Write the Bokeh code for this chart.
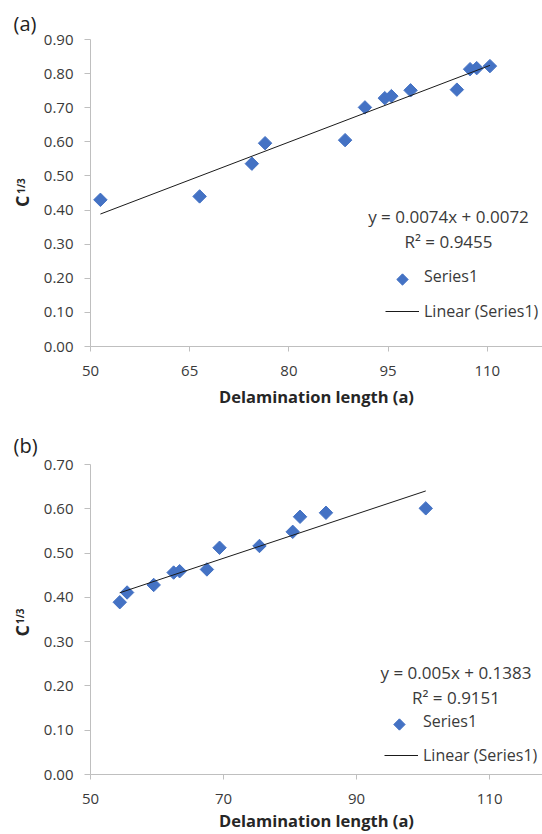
import numpy as np
from bokeh.plotting import figure
from bokeh.layouts import column, row
from bokeh.models import (Range1d, FixedTicker, NumeralTickFormatter, Label,
                          Legend, LegendItem)
from bokeh.core.properties import value
from bokeh.embed import file_html
from bokeh.resources import INLINE

FONT = "Open Sans"
BLUE = "#4472C4"
AXIS_GRAY = "#bfbfbf"
TEXT = "#3a3a3a"
TITLE = "#262626"

# Panel (a): delamination length vs cube root of compliance
a_len = [51.5, 66.5, 74.4, 76.4, 88.5, 91.5, 94.5, 95.5, 98.4, 105.4, 107.4, 108.4, 110.4]
a_c = [0.430, 0.440, 0.536, 0.596, 0.605, 0.701, 0.728, 0.734, 0.751, 0.753, 0.813, 0.816, 0.822]
a_slope, a_icpt, a_r2 = 0.0074, 0.0072, 0.9455
a_xticks = [50, 65, 80, 95, 110]
a_yticks = [0.0, 0.1, 0.2, 0.3, 0.4, 0.5, 0.6, 0.7, 0.8, 0.9]

# Panel (b)
b_len = [54.4, 55.5, 59.5, 62.5, 63.4, 67.5, 69.4, 75.4, 80.4, 81.5, 85.4, 100.4]
b_c = [0.389, 0.411, 0.428, 0.456, 0.459, 0.463, 0.512, 0.516, 0.548, 0.582, 0.591, 0.601]
b_slope, b_icpt, b_r2 = 0.005, 0.1383, 0.9151
b_xticks = [50, 70, 90, 110]
b_yticks = [0.0, 0.1, 0.2, 0.3, 0.4, 0.5, 0.6, 0.7]

STRIP_W = 40
MAIN_W = 542 - STRIP_W


def fmt_coef(v):
    return ("%.4f" % v).rstrip("0")


def side_strip(tag, height, b_top, b_bottom, tag_gap, c_xy, sup_xy):
    """Narrow strip left of a panel: panel tag on top, y title C^(1/3) beside the axis.
    Its y range runs in pixels from the top of the strip."""
    s = figure(width=STRIP_W, height=height, output_backend="svg", toolbar_location=None,
               x_range=Range1d(0, STRIP_W), y_range=Range1d(height - b_bottom, b_top),
               min_border_left=0, min_border_right=0,
               min_border_top=b_top, min_border_bottom=b_bottom)
    s.axis.visible = False
    s.grid.visible = False
    s.outline_line_color = None
    s.title.text = tag
    s.title.align = "left"
    s.title.offset = 13
    s.title.standoff = tag_gap
    s.title.text_font = FONT
    s.title.text_font_style = "normal"
    s.title.text_font_size = "20px"
    s.title.text_color = "#222222"
    s.text(x=[c_xy[0]], y=[c_xy[1]], text=["C"], angle=np.pi / 2, text_font=value(FONT),
           text_font_style="bold", text_font_size="18px", text_color=TITLE,
           text_align="center", text_baseline="middle")
    s.text(x=[sup_xy[0]], y=[sup_xy[1]], text=["1/3"], angle=np.pi / 2,
           text_font=value(FONT), text_font_style="bold", text_font_size="10px",
           text_color=TITLE, text_align="center", text_baseline="middle")
    return s


def panel(xs, ys, slope, icpt, r2, xticks, yticks, x_end, height,
          b_top, b_bottom, b_left, title_gap, eq_xy, leg_xy, leg_spacing):
    p = figure(width=MAIN_W, height=height, output_backend="svg", toolbar_location=None,
               x_range=Range1d(50, x_end), y_range=Range1d(0, yticks[-1]),
               min_border_top=b_top, min_border_bottom=b_bottom,
               min_border_left=b_left, min_border_right=0)
    p.outline_line_color = None
    p.grid.visible = False

    for ax in (p.xaxis[0], p.yaxis[0]):
        ax.axis_line_color = AXIS_GRAY
        ax.major_tick_line_color = AXIS_GRAY
        ax.minor_tick_line_color = None
        ax.major_tick_in = 0
        ax.major_label_text_font = FONT
        ax.major_label_text_font_size = "15px"
        ax.major_label_text_color = TEXT
    p.xaxis.ticker = FixedTicker(ticks=xticks)
    p.yaxis.ticker = FixedTicker(ticks=yticks)
    p.yaxis.formatter = NumeralTickFormatter(format="0.00")
    p.xaxis.major_tick_out = 5
    p.yaxis.major_tick_out = 6
    p.xaxis.major_label_standoff = 14
    p.yaxis.major_label_standoff = 11

    p.xaxis.axis_label = "Delamination length (a)"
    p.xaxis.axis_label_text_font = FONT
    p.xaxis.axis_label_text_font_style = "bold"
    p.xaxis.axis_label_text_font_size = "16.5px"
    p.xaxis.axis_label_text_color = TITLE
    p.xaxis.axis_label_standoff = title_gap

    sc = p.scatter(xs, ys, marker="square", size=9.5, angle=np.pi / 4,
                   fill_color=BLUE, line_color=BLUE)
    tx = np.array([min(xs), max(xs)])
    ln = p.line(tx, slope * tx + icpt, line_color="#1a1a1a", line_width=1)

    # trendline equation and R^2
    ex, ey = eq_xy
    p.add_layout(Label(x=ex, y=ey, x_units="screen", y_units="screen",
                       text="y = %sx + %s" % (fmt_coef(slope), fmt_coef(icpt)),
                       text_font=FONT, text_font_size="17px", text_color=TEXT,
                       text_align="center", text_baseline="middle"))
    p.add_layout(Label(x=ex, y=ey - 24.5, x_units="screen", y_units="screen",
                       text="R\u00b2 = %.4f" % r2,
                       text_font=FONT, text_font_size="17px", text_color=TEXT,
                       text_align="center", text_baseline="middle"))

    # legend: the marker entry gets a transparent stand-in, and the
    # diamond swatch is drawn as a rotated square at the entry's glyph slot
    proxy = p.scatter([], [], marker="square", size=8, fill_alpha=0, line_alpha=0)
    glyph_w, row_h = 34, 20
    legend = Legend(items=[LegendItem(label="Series1", renderers=[proxy]),
                           LegendItem(label="Linear (Series1)", renderers=[ln])],
                    location=leg_xy, glyph_width=glyph_w, glyph_height=row_h,
                    label_height=row_h, label_standoff=5, spacing=leg_spacing,
                    padding=0, margin=0, border_line_alpha=0, background_fill_alpha=0,
                    label_text_font=FONT, label_text_font_size="16px",
                    label_text_color=TEXT)
    p.add_layout(legend)

    frame_w = MAIN_W - b_left
    frame_h = height - b_top - b_bottom
    slot_sx = leg_xy[0] + glyph_w / 2
    slot_sy = leg_xy[1] + 2 * row_h + leg_spacing - row_h / 2
    sw_x = 50 + slot_sx * (x_end - 50) / frame_w
    sw_y = slot_sy * yticks[-1] / frame_h
    p.scatter([sw_x], [sw_y], marker="square", size=8, angle=np.pi / 4,
              fill_color=BLUE, line_color=BLUE)
    return p


top_main = panel(a_len, a_c, a_slope, a_icpt, a_r2, a_xticks, a_yticks,
                 118.35, 418, 39, 72, 50, 6, (358, 130), (295, 24), 13)
top_strip = side_strip("(a)", 418, 39, 72, 6, (21.5, 200.8), (20.5, 185.5))

bot_main = panel(b_len, b_c, b_slope, b_icpt, b_r2, b_xticks, b_yticks,
                 117.95, 416, 46, 60, 47, 2, (365.5, 101.6), (294, 8), 12)
bot_strip = side_strip("(b)", 416, 46, 60, 11, (21.5, 212.3), (19.5, 197.8))

layout = column(row(top_strip, top_main, spacing=0),
                row(bot_strip, bot_main, spacing=0), spacing=0)
open("out.html", "w").write(file_html(layout, INLINE))
